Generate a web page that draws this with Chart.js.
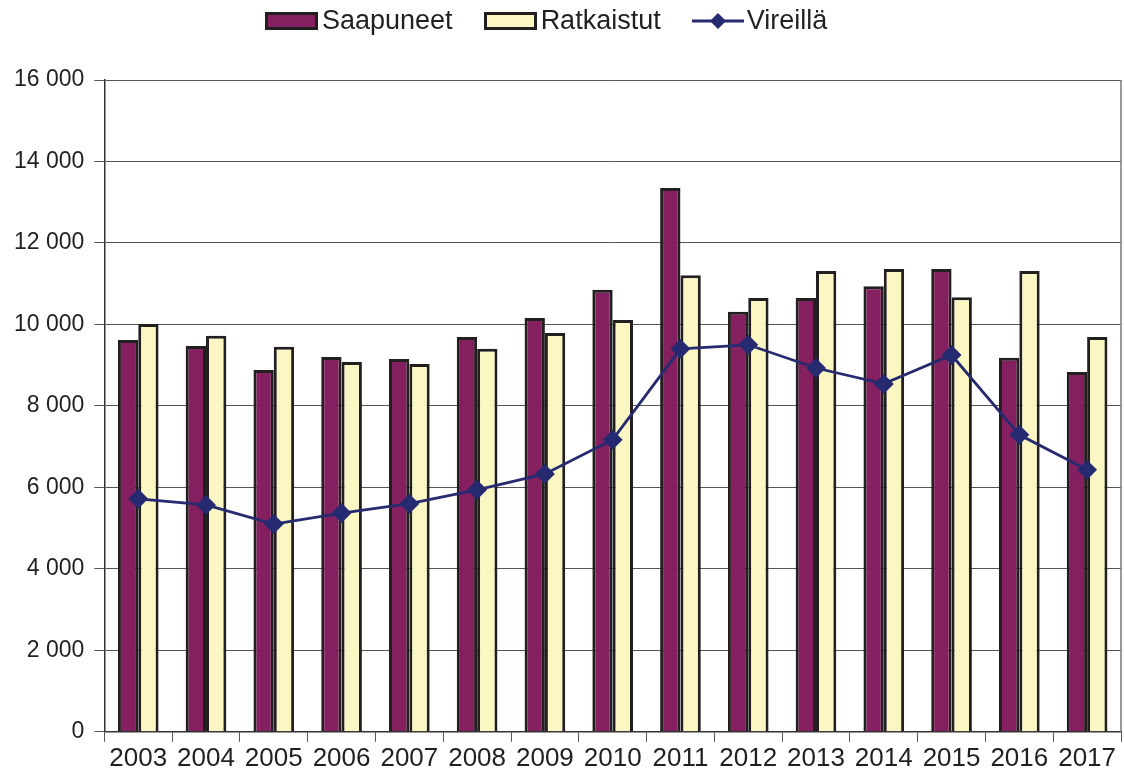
<!DOCTYPE html>
<html>
<head>
<meta charset="utf-8">
<script src="https://cdn.jsdelivr.net/npm/chart.js@4"></script>
<style>
  body { margin: 0; background: #fff; font-family: "Liberation Sans", Arial, sans-serif; }
  #wrap { position: relative; width: 1124px; height: 775px; }
  #legend { position: absolute; top: 5px; left: 265px; display: flex; align-items: center; font-size: 27px; color: #231F20; }
  .item { display: flex; align-items: center; margin-right: 31px; }
  .box { width: 53px; height: 18px; border: 3px solid #231F20; margin-right: 4px; box-sizing: border-box; }
</style>
</head>
<body>
<div id="wrap">
  <canvas id="chart" width="1124" height="775"></canvas>
  <div id="legend">
    <div class="item"><span class="box" style="background:#84205F"></span>Saapuneet</div>
    <div class="item"><span class="box" style="background:#FAF7C3"></span>Ratkaistut</div>
    <div class="item">
      <svg width="52" height="20" style="margin-right:3px"><line x1="0" y1="10" x2="52" y2="10" stroke="#262A70" stroke-width="3"/><polygon points="26,2 34,10 26,18 18,10" fill="#262A70"/></svg>Vireillä
    </div>
  </div>
</div>
<script>
var years = ['2003', '2004', '2005', '2006', '2007', '2008', '2009', '2010', '2011', '2012', '2013', '2014', '2015', '2016', '2017'];
var saapuneet = [9620, 9470, 8880, 9200, 9150, 9690, 10160, 10850, 13350, 10310, 10650, 10940, 11360, 9180, 8830];
var ratkaistut = [10010, 9720, 9450, 9080, 9030, 9400, 9790, 10110, 11210, 10650, 11310, 11360, 10670, 11310, 9690];
var vireilla = [5720, 5570, 5100, 5370, 5600, 5940, 6330, 7170, 9400, 9500, 8930, 8540, 9250, 7290, 6430];

var frame = {
    id: 'frame',
    afterDraw: function (chart) {
        var a = chart.chartArea, c = chart.ctx;
        c.save();
        c.strokeStyle = '#777';
        c.lineWidth = 1.5;
        c.beginPath();
        c.moveTo(a.right, a.top);
        c.lineTo(a.right, a.bottom);
        c.stroke();
        c.restore();
    }
};

var chart = new Chart(document.getElementById('chart'), {
    type: 'bar',
    data: {
        labels: years,
        datasets: [{
            type: 'line',
            label: 'Vireillä',
            data: vireilla,
            borderColor: '#262A70',
            backgroundColor: '#262A70',
            borderWidth: 2.8,
            pointStyle: 'rectRot',
            pointRadius: 8,
            tension: 0,
            clip: false,
            order: 0
        }, {
            label: 'Saapuneet',
            data: saapuneet,
            backgroundColor: '#84205F',
            borderColor: '#231F20',
            borderWidth: 3,
            order: 1
        }, {
            label: 'Ratkaistut',
            data: ratkaistut,
            backgroundColor: '#FAF7C3',
            borderColor: '#231F20',
            borderWidth: 3,
            order: 1
        }]
    },
    options: {
        responsive: false,
        animation: false,
        layout: { autoPadding: false, padding: { top: 80, right: 3, left: 4, bottom: 0 } },
        datasets: { bar: { categoryPercentage: 0.6, barPercentage: 1 } },
        plugins: { legend: { display: false }, tooltip: { enabled: false } },
        scales: {
            x: {
                grid: { display: true, drawOnChartArea: false, offset: true, tickLength: 10, color: '#555' },
                border: { color: '#333', width: 1.5 },
                ticks: { color: '#231F20', font: { family: 'Liberation Sans', size: 26 }, padding: 1 }
            },
            y: {
                min: 0,
                max: 16000,
                grid: { color: '#555', lineWidth: 1, tickLength: 10 },
                border: { color: '#333', width: 1.5 },
                ticks: {
                    stepSize: 2000,
                    color: '#231F20',
                    font: { family: 'Liberation Sans', size: 23 },
                    padding: 10,
                    callback: function (v) { return v.toLocaleString('en-US').replace(',', ' '); }
                }
            }
        }
    },
    plugins: [frame]
});
</script>
</body>
</html>
